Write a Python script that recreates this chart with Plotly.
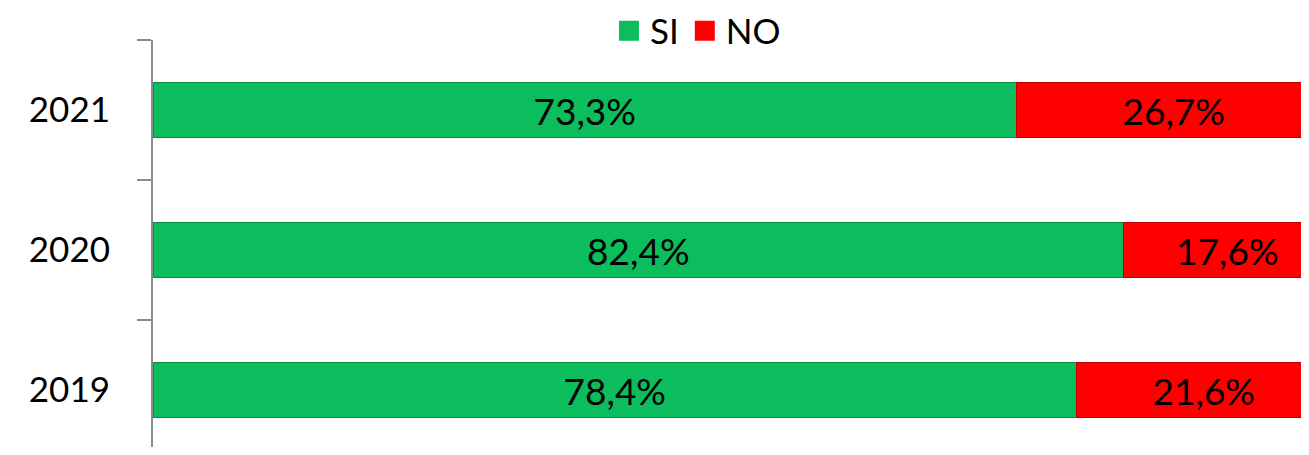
import plotly.graph_objects as go

years = ["2019", "2020", "2021"]
si_values = [78.4, 82.4, 73.3]
no_values = [21.6, 17.6, 26.7]
series_names = ["SI", "NO"]

green = "#0bbd5c"
green_edge = "#078a42"
red = "#ff0000"
red_edge = "#c00000"
font_family = "Lato, 'Open Sans', sans-serif"

def fmt(v):
    return f"{v:.1f}".replace(".", ",") + "%"

fig = go.Figure()
for name, vals, col, edge in [(series_names[0], si_values, green, green_edge),
                              (series_names[1], no_values, red, red_edge)]:
    fig.add_trace(go.Bar(
        y=years, x=vals, orientation="h", name=name,
        marker=dict(color=col, line=dict(color=edge, width=1.5)),
        text=[fmt(v) for v in vals], textposition="inside",
        insidetextanchor="middle", textangle=0,
        textfont=dict(size=37, color="black", family=font_family),
        showlegend=False, hoverinfo="x+y", cliponaxis=True,
    ))
    fig.add_trace(go.Scatter(
        x=[None], y=[None], mode="markers", name=name,
        marker=dict(symbol="square", size=16, color=col, line=dict(color=col, width=4)),
        showlegend=True,
    ))

# page body has an 8px margin; keep the figure inside the window (no scrollbars)
W, H = 1293, 439
L, T = 145, 32
plot_w = W - L          # 1148 px; the full 100% bar spans ~1178 px in the reference (cropped on the right)
plot_h = H - T          # 407 px; 140 px per category
fig.update_layout(
    width=W, height=H,
    barmode="stack", bargap=0.61,
    margin=dict(l=L, r=0, t=T, b=0, autoexpand=False),
    paper_bgcolor="white", plot_bgcolor="white",
    font=dict(family=font_family, size=35, color="black"),
    legend=dict(orientation="h", xref="container", yref="container",
                x=(697 - 8) / W, xanchor="center", y=1 - 23 / H, yanchor="middle",
                font=dict(size=35, family=font_family), itemwidth=32,
                traceorder="normal", bgcolor="rgba(0,0,0,0)"),
    xaxis=dict(range=[0, 100 * plot_w / 1178], visible=False, fixedrange=True),
    yaxis=dict(type="category", range=[2.5 - plot_h / 140, 2.5], showline=True,
               linecolor="#8c8c8c", linewidth=2, ticks="outside",
               tickson="boundaries", ticklen=14, tickwidth=2, tickcolor="#8c8c8c",
               showgrid=False, zeroline=False, automargin=False,
               tickfont=dict(size=35, family=font_family, color="black"),
               ticklabelstandoff=34),
)

fig.write_html("out.html")
